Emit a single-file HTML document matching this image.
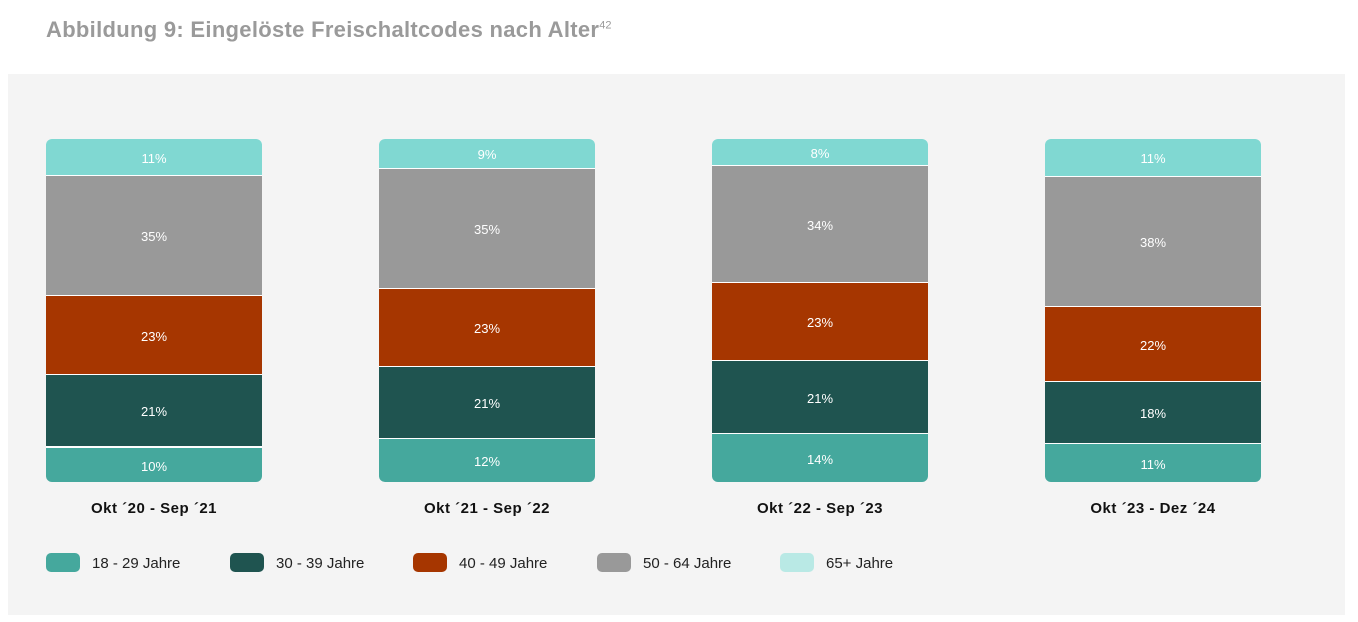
<!DOCTYPE html><html><head><meta charset="utf-8"><style>
body{margin:0;width:1358px;height:622px;background:#fff;font-family:"Liberation Sans",sans-serif;position:relative;overflow:hidden}
.t{position:absolute;left:46px;top:17px;font-size:22px;font-weight:bold;color:#9a9a9a;letter-spacing:0.3px}
.t sup{font-size:11px;font-weight:normal;letter-spacing:0}
.p{position:absolute;left:8px;top:74px;width:1337px;height:541px;background:#f4f4f4}
.b{position:absolute;top:139px;width:216px;height:343px;border-radius:6px;overflow:hidden;background:#fff}
.s{position:absolute;left:0;width:216px;color:#fff;font-size:13px;display:flex;align-items:center;justify-content:center;padding-top:2px;box-sizing:border-box}
.c1{background:#45a89d}.c2{background:#1f5450}.c3{background:#a63600}.c4{background:#999}.c5{background:#80d8d2}
.l{position:absolute;top:500px;width:216px;text-align:center;font-weight:bold;font-size:15px;color:#111;letter-spacing:0.5px}
.sw{position:absolute;top:553px;width:34px;height:19px;border-radius:5px}
.lt{position:absolute;top:555px;font-size:15px;color:#222}
</style></head><body>
<div class="t">Abbildung 9: Eingelöste Freischaltcodes nach Alter<sup>42</sup></div>
<div class="p"></div>

<div class="b" style="left:46px">
<div class="s c5" style="top:0;height:36px">11%</div>
<div class="s c4" style="top:37px;height:119px">35%</div>
<div class="s c3" style="top:157px;height:78px">23%</div>
<div class="s c2" style="top:236px;height:71px">21%</div>
<div class="s c1" style="top:309px;height:34px">10%</div>
</div>
<div class="b" style="left:379px">
<div class="s c5" style="top:0;height:29px">9%</div>
<div class="s c4" style="top:30px;height:119px">35%</div>
<div class="s c3" style="top:150px;height:77px">23%</div>
<div class="s c2" style="top:228px;height:71px">21%</div>
<div class="s c1" style="top:300px;height:43px">12%</div>
</div>
<div class="b" style="left:712px">
<div class="s c5" style="top:0;height:26px">8%</div>
<div class="s c4" style="top:27px;height:116px">34%</div>
<div class="s c3" style="top:144px;height:77px">23%</div>
<div class="s c2" style="top:222px;height:72px">21%</div>
<div class="s c1" style="top:295px;height:48px">14%</div>
</div>
<div class="b" style="left:1045px">
<div class="s c5" style="top:0;height:37px">11%</div>
<div class="s c4" style="top:38px;height:129px">38%</div>
<div class="s c3" style="top:168px;height:74px">22%</div>
<div class="s c2" style="top:243px;height:61px">18%</div>
<div class="s c1" style="top:305px;height:38px">11%</div>
</div>

<div class="l" style="left:46px">Okt ´20 - Sep ´21</div>
<div class="l" style="left:379px">Okt ´21 - Sep ´22</div>
<div class="l" style="left:712px">Okt ´22 - Sep ´23</div>
<div class="l" style="left:1045px">Okt ´23 - Dez ´24</div>

<div class="sw c1" style="left:46px"></div><div class="lt" style="left:92px">18 - 29 Jahre</div>
<div class="sw c2" style="left:230px"></div><div class="lt" style="left:276px">30 - 39 Jahre</div>
<div class="sw c3" style="left:413px"></div><div class="lt" style="left:459px">40 - 49 Jahre</div>
<div class="sw c4" style="left:597px"></div><div class="lt" style="left:643px">50 - 64 Jahre</div>
<div class="sw" style="left:780px;background:#b9e9e5"></div><div class="lt" style="left:826px">65+ Jahre</div>
</body></html>
